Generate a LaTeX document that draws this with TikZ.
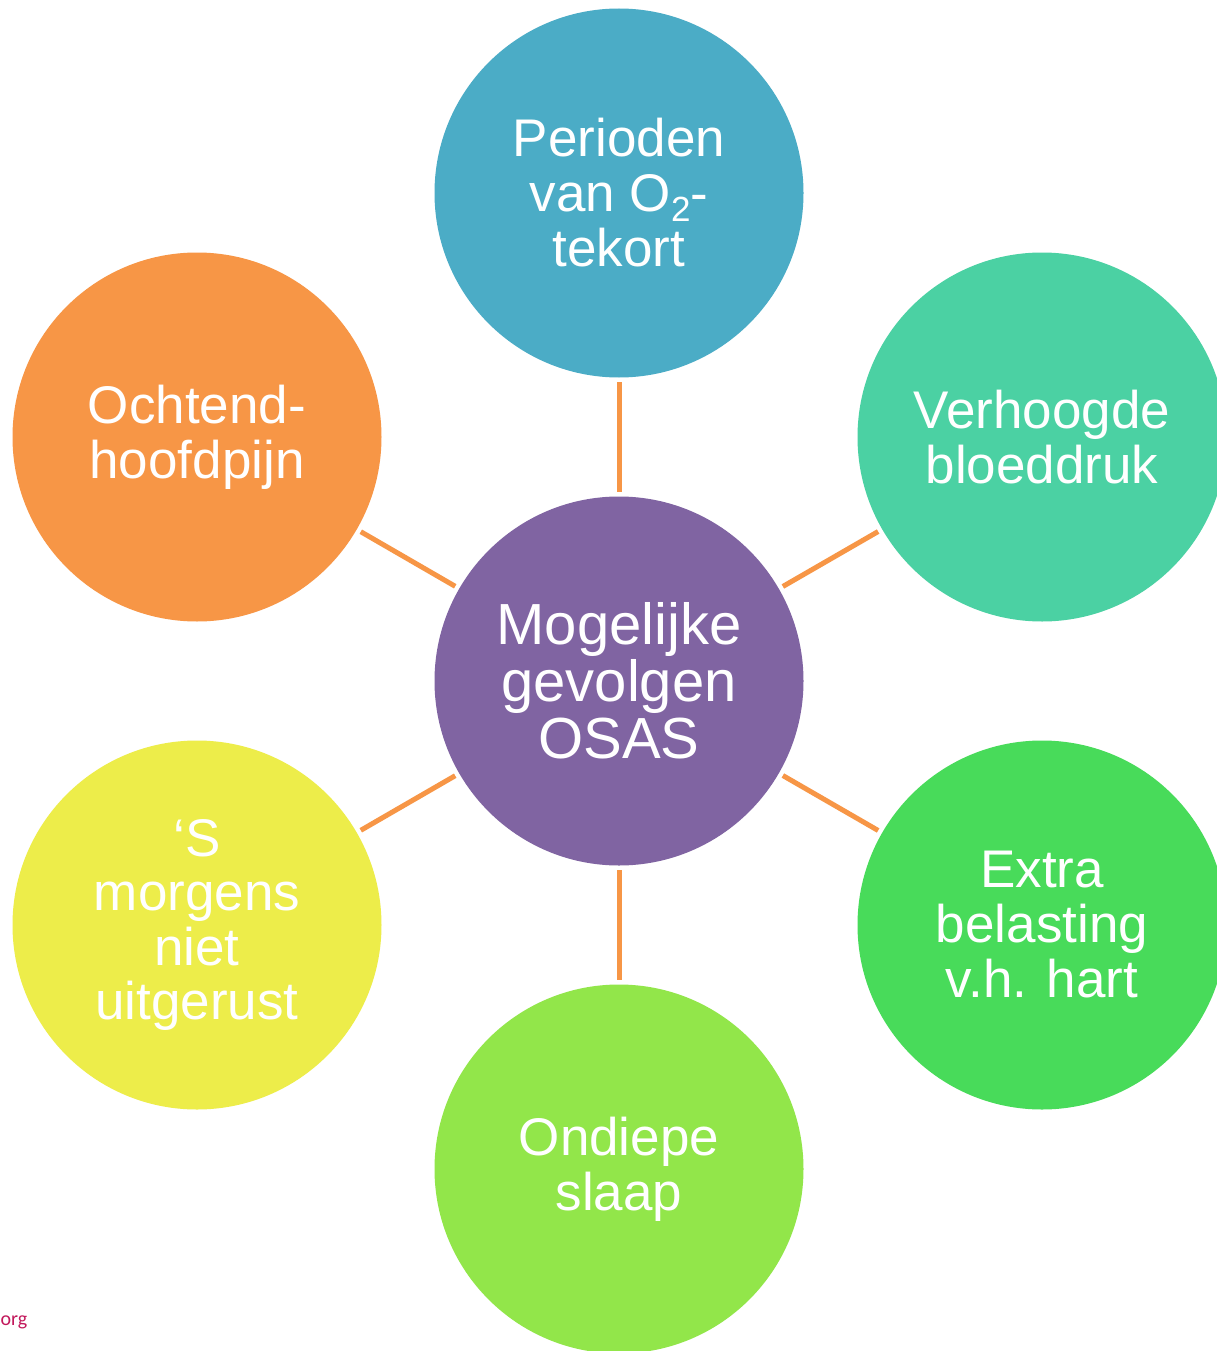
\documentclass[tikz,border=0pt]{standalone}
\usepackage{fontspec}
\setmainfont{Liberation Sans}
\newfontfamily\orgfont{Carlito}
\definecolor{cpurple}{HTML}{8064A2}
\definecolor{ctop}{HTML}{4BACC6}
\definecolor{cru}{HTML}{4BD1A3}
\definecolor{crl}{HTML}{48DB5A}
\definecolor{cbot}{HTML}{92E64A}
\definecolor{cll}{HTML}{EDED4A}
\definecolor{cul}{HTML}{F79646}
\definecolor{linkorange}{HTML}{F79646}
\definecolor{orgred}{HTML}{C2185B}
\newcommand{\lowtwo}{\smash{\raisebox{-10pt}{\fontsize{35}{35}\selectfont 2}}}
\begin{document}
\begin{tikzpicture}[x=1pt,y=-1pt,
  bubble/.style={circle, minimum size=369pt, inner sep=0pt, text=white, align=center,
    font=\fontsize{53}{55}\selectfont},
  link/.style={draw=linkorange, line width=5pt, shorten <=4.5pt, shorten >=4.5pt}]
\useasboundingbox (0,0) rectangle (1216,1351);
\fill[white] (0,0) rectangle (1216,1351);
\node[bubble, fill=cpurple, font=\fontsize{58}{57}\selectfont] (c) at (619,681) {Mogelijke\\gevolgen\\OSAS};
\node[bubble, fill=ctop] (t) at (619,193) {Perioden\\van O\lowtwo-\\tekort};
\node[bubble, fill=cru] (ru) at (1042,437) {Verhoogde\\bloeddruk};
\node[bubble, fill=crl] (rl) at (1042,925) {Extra\\belasting\\v.h. hart};
\node[bubble, fill=cbot] (b) at (619,1169) {Ondiepe\\slaap};
\node[bubble, fill=cll, font=\fontsize{53}{54.5}\selectfont] (ll) at (197,925) {‘S\\morgens\\niet\\uitgerust};
\node[bubble, fill=cul] (lu) at (197,437) {Ochtend-\\hoofdpijn};
\draw[link] (t) -- (c);
\draw[link] (ru) -- (c);
\draw[link] (rl) -- (c);
\draw[link] (b) -- (c);
\draw[link] (ll) -- (c);
\draw[link] (lu) -- (c);
\node[anchor=base west, inner sep=0pt, text=orgred, font=\orgfont\fontsize{20}{22}\selectfont] (org) at (0.5,1325) {org};
\end{tikzpicture}
\end{document}
